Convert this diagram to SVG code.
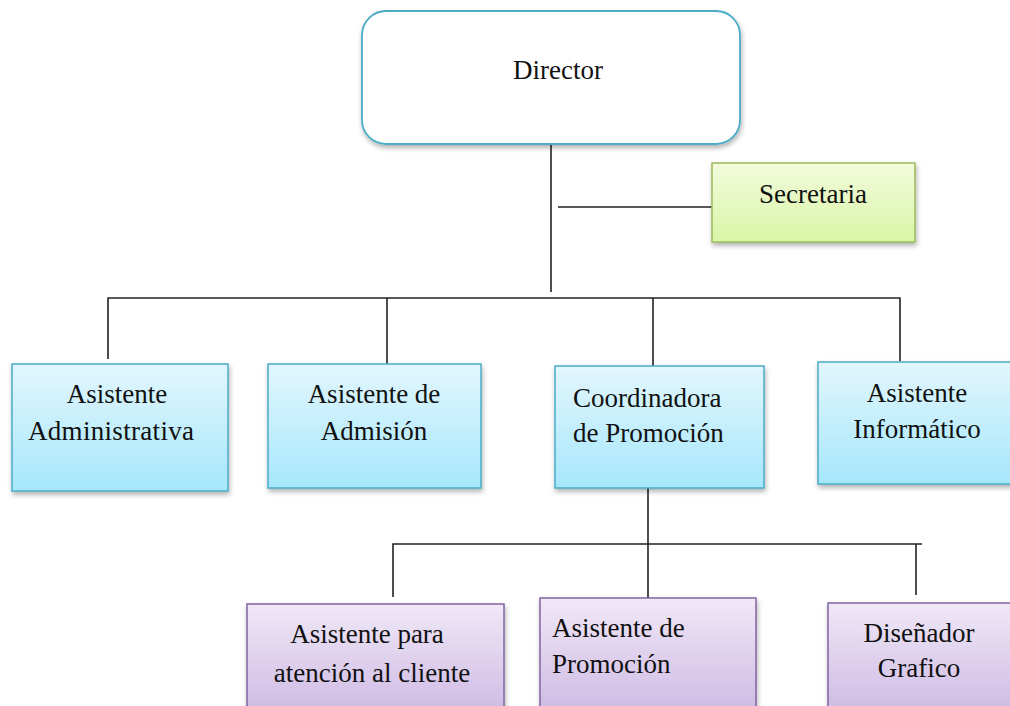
<svg xmlns="http://www.w3.org/2000/svg" width="1010" height="706" viewBox="0 0 1010 706">
<defs>
<linearGradient id="gBlue" x1="0" y1="0" x2="0" y2="1"><stop offset="0" stop-color="#e2f6fd"/><stop offset="1" stop-color="#a6e7fb"/></linearGradient>
<linearGradient id="gGreen" x1="0" y1="0" x2="0" y2="1"><stop offset="0" stop-color="#f2fbdc"/><stop offset="1" stop-color="#d9f5a6"/></linearGradient>
<linearGradient id="gPurple" x1="0" y1="0" x2="0" y2="1"><stop offset="0" stop-color="#f0e8f7"/><stop offset="1" stop-color="#cbb6e2"/></linearGradient>
<filter id="sh" x="-10%" y="-10%" width="130%" height="130%"><feDropShadow dx="1" dy="3" stdDeviation="2.5" flood-color="#000" flood-opacity="0.3"/></filter>
</defs>
<style>
text{font-family:"Liberation Serif","Times New Roman",serif;font-size:27px;fill:#111}
.c{text-anchor:middle}
.blue{fill:url(#gBlue);stroke:#4bacc6;stroke-width:1.5}
.green{fill:url(#gGreen);stroke:#9bbb59;stroke-width:1.5}
.purple{fill:url(#gPurple);stroke:#8064a2;stroke-width:1.5}
.ln{stroke:#222;stroke-width:1.6;fill:none}
</style>
<rect width="1010" height="706" fill="#fff"/>
<g id="connectors">
<path class="ln" d="M551 133V292"/>
<path class="ln" d="M558 207H712"/>
<path class="ln" d="M108 359V298H900V361"/>
<path class="ln" d="M387 298V366"/>
<path class="ln" d="M653 298V368"/>
<path class="ln" d="M648 488V598"/>
<path class="ln" d="M393 597V544H922"/>
<path class="ln" d="M916 544V595"/>
</g>
<g id="director"><rect x="362" y="11" width="378" height="133" rx="24" fill="#fff" stroke="#4bacc6" stroke-width="1.8" filter="url(#sh)"/><text class="c" x="558" y="79">Director</text></g>
<g id="secretaria"><rect class="green" x="712" y="163" width="203" height="79" filter="url(#sh)"/><text class="c" x="813" y="203">Secretaria</text></g>
<g id="asistente-administrativa"><rect class="blue" x="12" y="364" width="216" height="127" filter="url(#sh)"/><text class="c" x="117" y="403">Asistente</text><text class="c" x="111" y="440" textLength="166">Administrativa</text></g>
<g id="asistente-admision"><rect class="blue" x="268" y="364" width="213" height="124" filter="url(#sh)"/><text class="c" x="374" y="403">Asistente de</text><text class="c" x="374" y="440">Admisión</text></g>
<g id="coordinadora"><rect class="blue" x="555" y="366" width="209" height="122" filter="url(#sh)"/><text x="573" y="407">Coordinadora</text><text x="573" y="442">de Promoción</text></g>
<g id="asistente-informatico"><rect class="blue" x="818" y="362" width="200" height="122" filter="url(#sh)"/><text class="c" x="917" y="402">Asistente</text><text class="c" x="917" y="438">Informático</text></g>
<g id="asistente-atencion"><rect class="purple" x="247" y="604" width="257" height="120" filter="url(#sh)"/><text class="c" x="367" y="643">Asistente para</text><text class="c" x="372" y="682">atención al cliente</text></g>
<g id="asistente-promocion"><rect class="purple" x="540" y="598" width="216" height="126" filter="url(#sh)"/><text x="552" y="637">Asistente de</text><text x="552" y="673">Promoción</text></g>
<g id="disenador"><rect class="purple" x="828" y="603" width="190" height="121" filter="url(#sh)"/><text class="c" x="919" y="642">Diseñador</text><text class="c" x="919" y="677">Grafico</text></g>
</svg>
